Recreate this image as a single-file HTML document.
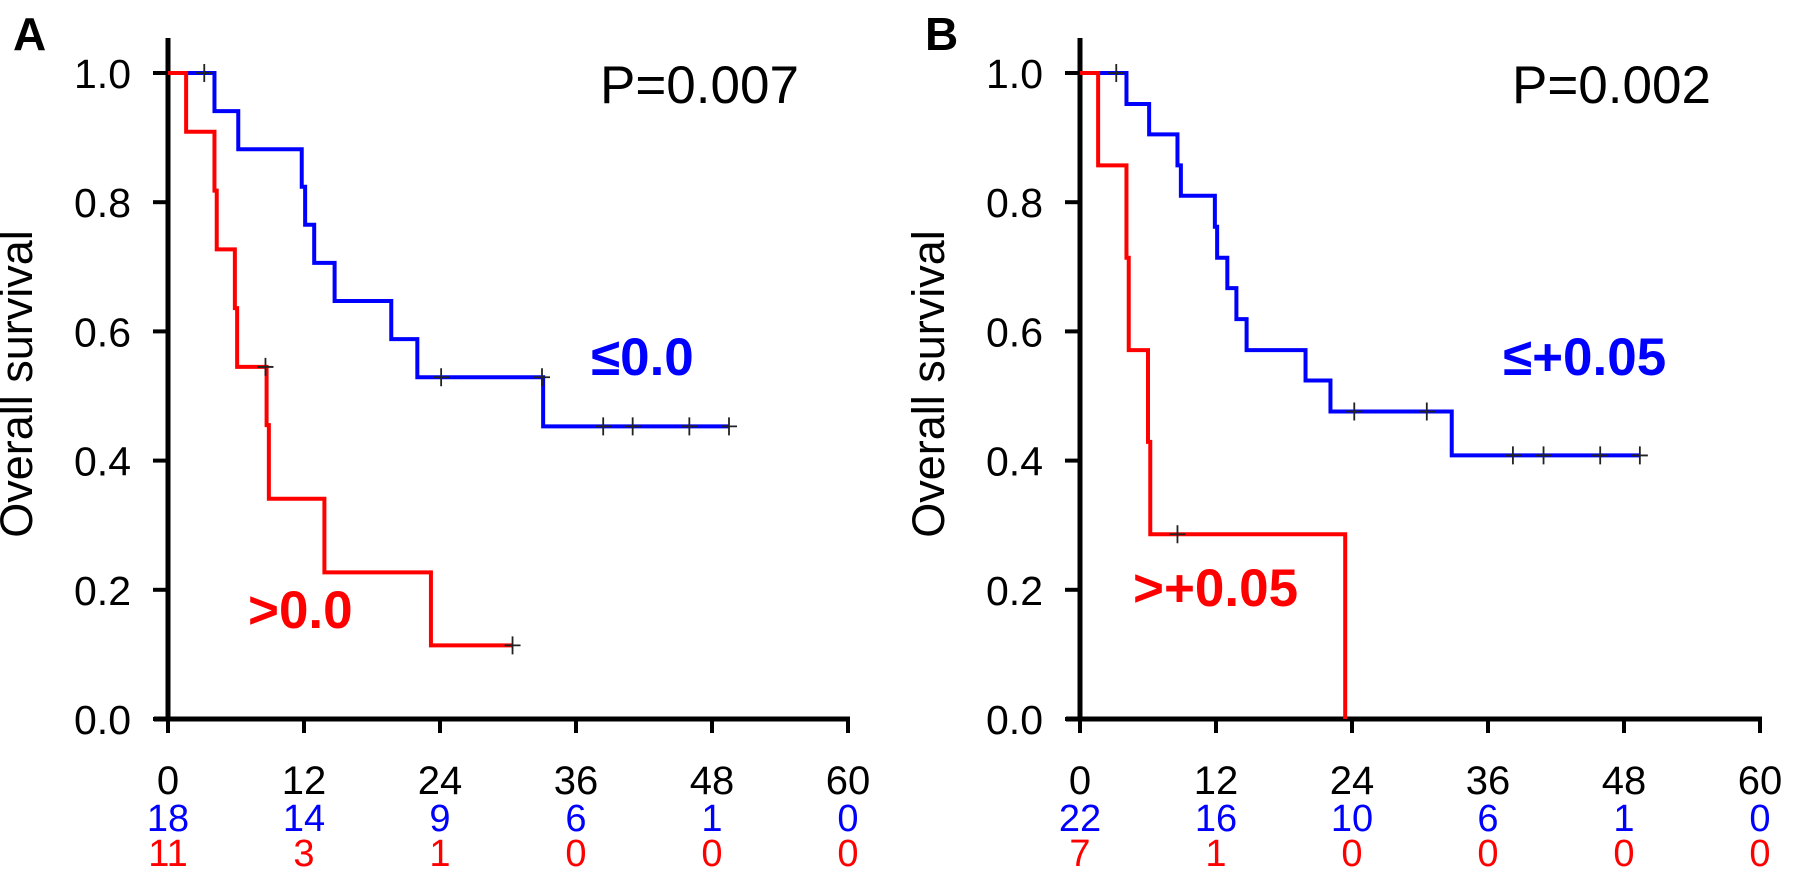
<!DOCTYPE html>
<html><head><meta charset="utf-8"><style>
html,body{margin:0;padding:0;background:#fff;}
svg{display:block;font-family:"Liberation Sans",Arial,sans-serif;}
</style></head><body>
<svg id="chart" width="1795" height="879" viewBox="0 0 1795 879" xmlns="http://www.w3.org/2000/svg"></svg>
<script>
const xTicks=[0,12,24,36,48,60];
const yTicks=[0,0.2,0.4,0.6,0.8,1.0];
// Panel A
const aBlueTimes=[0,4.1,6.2,11.8,12.1,12.9,14.7,19.7,22.0,33.1,49.5];
const aBlueSurv=[1,0.941,0.882,0.824,0.765,0.706,0.647,0.588,0.529,0.453,0.453];
const aBlueCens=[3.2,24.1,33.0,38.4,41.0,46.0,49.5];
const aRedTimes=[0,1.6,4.1,4.3,5.9,6.1,8.7,8.9,13.8,23.2,30.4];
const aRedSurv=[1,0.909,0.818,0.727,0.636,0.545,0.455,0.341,0.227,0.114,0.114];
const aRedCens=[8.6,30.4];
const aRiskBlue=[18,14,9,6,1,0];
const aRiskRed=[11,3,1,0,0,0];
// Panel B
const bBlueTimes=[0,4.1,6.1,8.6,8.9,11.9,12.1,13.0,13.8,14.7,19.9,22.1,32.8,49.4];
const bBlueSurv=[1,0.952,0.905,0.857,0.810,0.762,0.714,0.667,0.619,0.571,0.524,0.476,0.408,0.408];
const bBlueCens=[3.2,24.2,30.6,38.2,40.9,45.9,49.4];
const bRedTimes=[0,1.6,4.1,4.3,6.0,6.2,23.4];
const bRedSurv=[1,0.857,0.714,0.571,0.429,0.286,0];
const bRedCens=[8.6];
const bRiskBlue=[22,16,10,6,1,0];
const bRiskRed=[7,1,0,0,0,0];

const NS="http://www.w3.org/2000/svg";
const svg=document.getElementById('chart');
function mk(tag,attrs,parent){const e=document.createElementNS(NS,tag);for(const k in attrs)e.setAttribute(k,attrs[k]);(parent||svg).appendChild(e);return e;}

function panel(ox,letter,pText,blueLbl,redLbl,redLblX,redLblY,bt,bs,bc,rt,rs,rc,rb,rr,titleX){
  const g=mk('g',{});
  
  
  const xs=t=>ox+t*(680/60);
  const ys=v=>719-v*646;
  const L=mk('text',{x:ox-155,y:50,'font-size':46,'font-weight':'bold',fill:'#000'},g);L.textContent=letter;
  
  
  const ya=mk('line',{x1:ox,y1:38,x2:ox,y2:721,stroke:'#000','stroke-width':5},g);
  
  
  const xa=mk('line',{x1:ox-14,y1:719,x2:xs(60)+2,y2:719,stroke:'#000','stroke-width':5},g);
  
  
  yTicks.forEach(v=>{
    mk('line',{x1:ox-15,y1:ys(v),x2:ox,y2:ys(v),stroke:'#000','stroke-width':4},g);
    const t=mk('text',{x:ox-37,y:ys(v)+15,'font-size':41,'text-anchor':'end',fill:'#000'},g);
    t.textContent=v.toFixed(1);
    
    
  });
  xTicks.forEach((v,i)=>{
    mk('line',{x1:xs(v),y1:719,x2:xs(v),y2:733,stroke:'#000','stroke-width':4},g);
    const t=mk('text',{x:xs(v),y:794,'font-size':40,'text-anchor':'middle',fill:'#000'},g);
    t.textContent=v;
    
    
    const b=mk('text',{x:xs(v),y:831,'font-size':38,'text-anchor':'middle',fill:'#0000ff'},g);
    b.textContent=rb[i];
    
    
    const r=mk('text',{x:xs(v),y:866,'font-size':38,'text-anchor':'middle',fill:'#ff0000'},g);
    r.textContent=rr[i];
    
    
  });
  const yt=mk('text',{x:0,y:0,'font-size':45,'text-anchor':'middle',fill:'#000',transform:`translate(${titleX+18},384) rotate(-90)`},g);
  yt.textContent='Overall survival';
  
  
  function step(T,S,color,name){
    let d=`M${xs(T[0])},${ys(S[0])}`;
    for(let i=1;i<T.length;i++){d+=` H${xs(T[i])} V${ys(S[i])}`;}
    const p=mk('path',{d:d,fill:'none',stroke:color,'stroke-width':4},g);
    
    
  }
  function survAt(T,S,t){let v=S[0];for(let i=0;i<T.length;i++){if(T[i]<=t)v=S[i];}return v;}
  step(bt,bs,'#0000ff','curve-low');
  step(rt,rs,'#ff0000','curve-high');
  function cens(C,T,S){C.forEach(c=>{const y=ys(survAt(T,S,c));
    const m=mk('path',{d:`M${xs(c)-8},${y} H${xs(c)+8} M${xs(c)},${y-9} V${y+9}`,stroke:'#222','stroke-width':1.8,fill:'none'},g);
    
    });}
  cens(bc,bt,bs);cens(rc,rt,rs);
  const p=mk('text',{x:ox+432,y:103,'font-size':53,fill:'#000'},g);p.textContent=pText;
  
  
  const bl=mk('text',{x:ox+423,y:375,'font-size':53,'font-weight':'bold',fill:'#0000ff'},g);bl.textContent=blueLbl;
  
  
  const rl=mk('text',{x:redLblX,y:redLblY,'font-size':53,'font-weight':'bold',fill:'#ff0000'},g);rl.textContent=redLbl;
  
  
}
panel(168,'A','P=0.007','≤0.0','>0.0',248,628,aBlueTimes,aBlueSurv,aBlueCens,aRedTimes,aRedSurv,aRedCens,aRiskBlue,aRiskRed,14);
panel(1080,'B','P=0.002','≤+0.05','>+0.05',1133,606,bBlueTimes,bBlueSurv,bBlueCens,bRedTimes,bRedSurv,bRedCens,bRiskBlue,bRiskRed,926);
</script>
</body></html>
